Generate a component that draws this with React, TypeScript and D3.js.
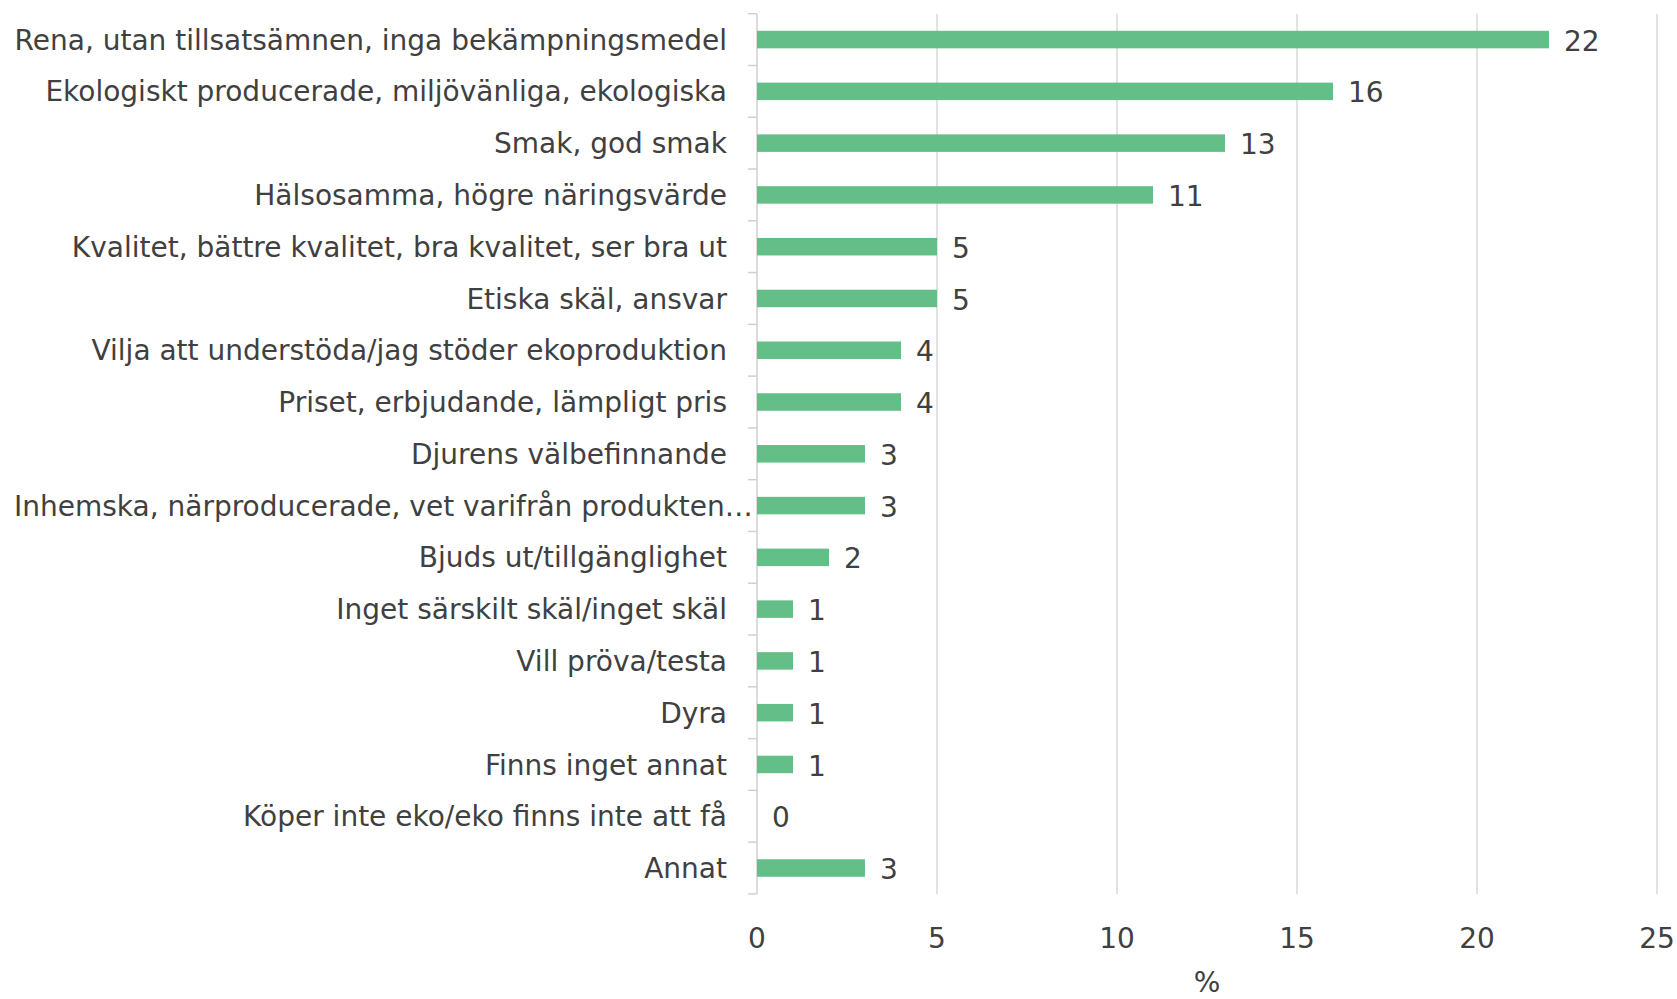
import React, { useEffect, useRef } from "react";
import * as d3 from "d3";

const categories = [
  "Rena, utan tillsatsämnen, inga bekämpningsmedel",
  "Ekologiskt producerade, miljövänliga, ekologiska",
  "Smak, god smak",
  "Hälsosamma, högre näringsvärde",
  "Kvalitet, bättre kvalitet, bra kvalitet, ser bra ut",
  "Etiska skäl, ansvar",
  "Vilja att understöda/jag stöder ekoproduktion",
  "Priset, erbjudande, lämpligt pris",
  "Djurens välbefinnande",
  "Inhemska, närproducerade, vet varifrån produkten…",
  "Bjuds ut/tillgänglighet",
  "Inget särskilt skäl/inget skäl",
  "Vill pröva/testa",
  "Dyra",
  "Finns inget annat",
  "Köper inte eko/eko finns inte att få",
  "Annat",
];
const values = [22, 16, 13, 11, 5, 5, 4, 4, 3, 3, 2, 1, 1, 1, 1, 0, 3];
const xTicks = [0, 5, 10, 15, 20, 25];
const axisTitle = "%";

const W = 1677;
const H = 999;
const left = 757;
const right = 1657;
const top = 13.7;
const bottom = 893.9;
const FONT = "'DejaVu Sans', sans-serif";
const FS = 28;
const TEXT = "#404040";
const BAR = "#63BE87";

export default function App() {
  const ref = useRef<SVGSVGElement>(null);

  useEffect(() => {
    const svg = d3.select(ref.current);
    svg.selectAll("*").remove();
    const x = d3.scaleLinear().domain([0, 25]).range([left, right]);
    const y = d3.scaleBand<string>().domain(categories).range([top, bottom]).paddingInner(0).paddingOuter(0);
    const bw = y.bandwidth();
    const barH = 17.5;

    svg.append("g").selectAll("line").data(xTicks.filter((t) => t > 0)).join("line")
      .attr("x1", (d) => x(d)).attr("x2", (d) => x(d))
      .attr("y1", top).attr("y2", bottom)
      .attr("stroke", "#D9D9D9").attr("stroke-width", 1.5);

    svg.append("line").attr("x1", x(0)).attr("x2", x(0)).attr("y1", top).attr("y2", bottom)
      .attr("stroke", "#D0D0D0").attr("stroke-width", 1.5);
    const bounds = categories.map((c) => y(c)!).concat([bottom]);
    svg.append("g").selectAll("line").data(bounds).join("line")
      .attr("x1", x(0) - 9).attr("x2", x(0))
      .attr("y1", (d) => d).attr("y2", (d) => d)
      .attr("stroke", "#D0D0D0").attr("stroke-width", 1.5);

    svg.append("g").selectAll("rect").data(values).join("rect")
      .attr("x", x(0))
      .attr("y", (_, i) => y(categories[i])! + bw / 2 - barH / 2)
      .attr("width", (d) => x(d) - x(0))
      .attr("height", barH)
      .attr("fill", BAR);

    svg.append("g").selectAll("text").data(values).join("text")
      .attr("x", (d) => x(d) + 15)
      .attr("y", (_, i) => y(categories[i])! + bw / 2 + 1)
      .attr("dy", "0.36em")
      .attr("font-family", FONT).attr("font-size", FS).attr("fill", TEXT)
      .text((d) => String(d));

    const labels = svg.append("g").selectAll("text").data(categories).join("text")
      .attr("x", x(0) - 30)
      .attr("y", (c) => y(c)! + bw / 2)
      .attr("dy", "0.36em")
      .attr("text-anchor", "end")
      .attr("font-family", FONT).attr("font-size", FS).attr("fill", TEXT)
      .text((c) => c);
    labels.each(function () {
      const el = this as SVGTextElement;
      const w = el.getComputedTextLength();
      const lx = x(0) - 30 - w;
      if (lx < 14) {
        d3.select(el).attr("text-anchor", "start").attr("x", 14);
      }
    });

    svg.append("g").selectAll("text").data(xTicks).join("text")
      .attr("x", (d) => x(d)).attr("y", 938).attr("dy", "0.36em")
      .attr("text-anchor", "middle")
      .attr("font-family", FONT).attr("font-size", FS).attr("fill", TEXT)
      .text((d) => String(d));

    svg.append("text").attr("x", (left + right) / 2).attr("y", 982).attr("dy", "0.36em")
      .attr("text-anchor", "middle")
      .attr("font-family", FONT).attr("font-size", FS).attr("fill", TEXT)
      .text(axisTitle);
  }, []);

  return (
    <svg ref={ref} width={W} height={H}
      style={{ position: "absolute", left: 0, top: 0, background: "#fff" }} />
  );
}
